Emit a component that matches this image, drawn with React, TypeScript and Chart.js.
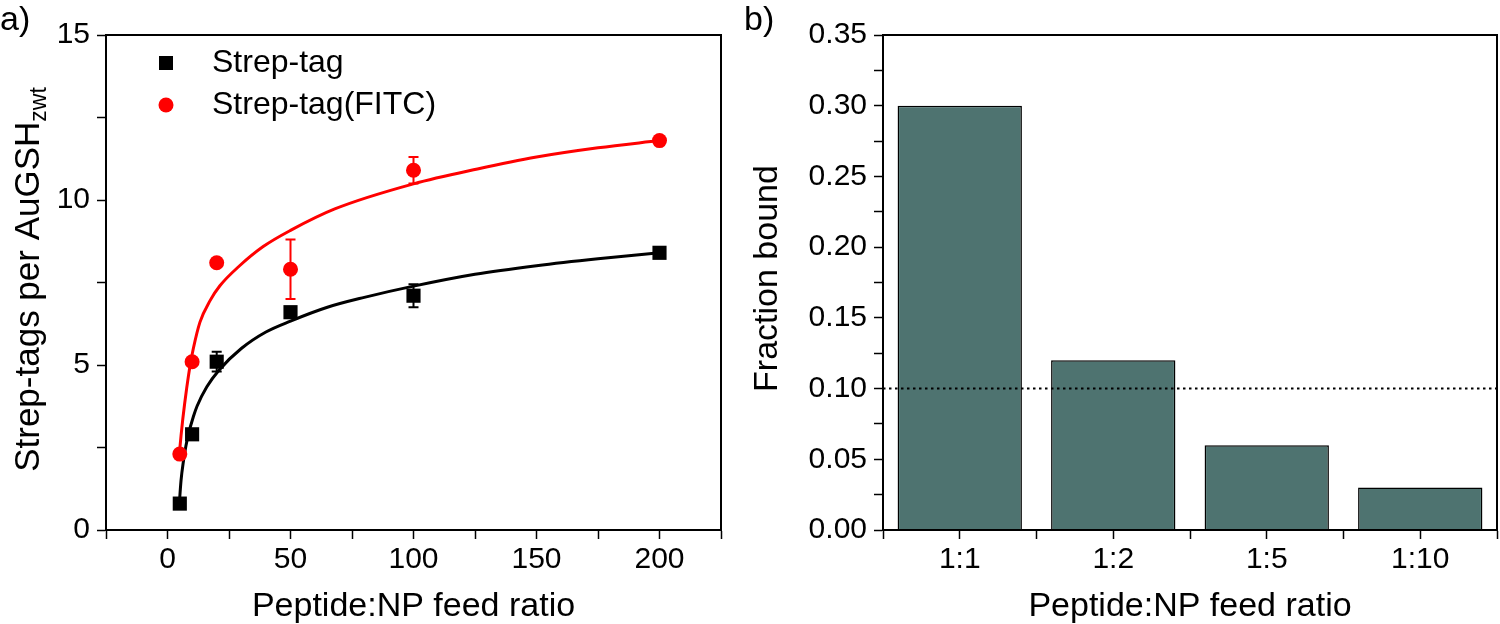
import React, { useEffect, useRef } from 'react';
import { Chart, registerables } from 'chart.js';

Chart.register(...registerables);

const FONT = '"Liberation Sans", Arial, Helvetica, sans-serif';

// ---------- Panel a ----------
const feedRatio = [5, 10, 20, 50, 100, 200];
const strepTag = [0.8, 2.9, 5.1, 6.6, 7.1, 8.4];
const strepTagErr = [0, 0, 0.3, 0, 0.35, 0];
const strepTagFitc = [2.3, 5.1, 8.1, 7.9, 10.9, 11.8];
const strepTagFitcErr = [0, 0, 0.12, 0.9, 0.4, 0];

const strepFitX = [4.8, 5.5, 6.5, 7.5, 8.5, 10.5, 12, 16, 21, 30, 40, 50, 65, 80, 100, 125, 150, 175, 200];
const strepFitY = [0.8, 1.5, 2.1, 2.55, 2.9, 3.43, 3.75, 4.34, 4.85, 5.5, 6.0, 6.33, 6.75, 7.05, 7.39, 7.75, 8.01, 8.22, 8.4];
const fitcFitX = [4.8, 5.5, 6.2, 7.0, 7.8, 9.1, 10.5, 13.2, 17.3, 21.3, 29.2, 38.9, 50, 68, 100, 126, 150, 175, 200];
const fitcFitY = [2.3, 2.85, 3.35, 3.85, 4.3, 4.95, 5.5, 6.3, 6.95, 7.4, 8.0, 8.59, 9.08, 9.73, 10.49, 10.94, 11.3, 11.58, 11.8];

const seriesLabels = ['Strep-tag', 'Strep-tag(FITC)'];
const xTitleA = 'Peptide:NP feed ratio';
const yTitleA = 'Strep-tags per AuGSH';
const yTitleASub = 'zwt';

// ---------- Panel b ----------
const ratioLabels = ['1:1', '1:2', '1:5', '1:10'];
const ratioIndex = [1, 2, 3, 4];
const fractionBound = [0.3, 0.12, 0.06, 0.03];
const thresholdX = [0.5, 4.5];
const thresholdY = [0.1, 0.1];
const xTitleB = 'Peptide:NP feed ratio';
const yTitleB = 'Fraction bound';

const TICK_FONT = { family: FONT, size: 30 };
const TITLE_PX = 34;

const axisCommon = {
  grid: {
    display: true,
    drawOnChartArea: false,
    drawTicks: true,
    tickLength: 9,
    tickWidth: 1.5,
    tickColor: '#000',
    color: '#000',
  },
  border: { display: true, color: '#000', width: 2 },
};

const framePlugin = {
  id: 'frame',
  afterDraw(chart: any) {
    const { ctx, chartArea: a } = chart;
    ctx.save();
    ctx.strokeStyle = '#000';
    ctx.lineWidth = 2;
    ctx.strokeRect(a.left, a.top, a.right - a.left, a.bottom - a.top);
    ctx.restore();
  },
};

const errorBarPlugin = {
  id: 'errorBars',
  beforeDatasetsDraw(chart: any) {
    const { ctx } = chart;
    const xs = chart.scales.x;
    const ys = chart.scales.y;
    chart.data.datasets.forEach((ds: any) => {
      if (!ds.errorBars) return;
      ctx.save();
      ctx.strokeStyle = ds.backgroundColor;
      ctx.lineWidth = 2;
      ds.data.forEach((p: any, j: number) => {
        const e = ds.errorBars[j];
        if (!e) return;
        const px = xs.getPixelForValue(p.x);
        const top = ys.getPixelForValue(p.y + e);
        const bot = ys.getPixelForValue(p.y - e);
        ctx.beginPath();
        ctx.moveTo(px, top);
        ctx.lineTo(px, bot);
        ctx.moveTo(px - 5, top);
        ctx.lineTo(px + 5, top);
        ctx.moveTo(px - 5, bot);
        ctx.lineTo(px + 5, bot);
        ctx.stroke();
      });
      ctx.restore();
    });
  },
};

function drawYTitle(ctx: CanvasRenderingContext2D, cx: number, cy: number, main: string, size: number, sub?: string) {
  ctx.save();
  ctx.translate(cx, cy);
  ctx.rotate(-Math.PI / 2);
  ctx.fillStyle = '#000';
  ctx.textBaseline = 'middle';
  ctx.textAlign = 'left';
  ctx.font = `${size}px ${FONT}`;
  const w1 = ctx.measureText(main).width;
  let w2 = 0;
  const subFont = `${Math.round(size * 0.66)}px ${FONT}`;
  if (sub) {
    ctx.font = subFont;
    w2 = ctx.measureText(sub).width;
  }
  const start = -(w1 + w2) / 2;
  ctx.font = `${size}px ${FONT}`;
  ctx.fillText(main, start, 0);
  if (sub) {
    ctx.font = subFont;
    ctx.fillText(sub, start + w1, 11);
  }
  ctx.restore();
}

const decorA = {
  id: 'decorA',
  afterDraw(chart: any) {
    const { ctx, chartArea: a } = chart;
    ctx.save();
    ctx.fillStyle = '#000';
    ctx.font = `34px ${FONT}`;
    ctx.textAlign = 'left';
    ctx.textBaseline = 'alphabetic';
    ctx.fillText('a)', 0, 30);
    ctx.font = `${TITLE_PX}px ${FONT}`;
    ctx.textAlign = 'center';
    ctx.fillText(xTitleA, (a.left + a.right) / 2, 616);
    drawYTitle(ctx, 29, (a.top + a.bottom) / 2 - 3, yTitleA, 35, yTitleASub);
    // legend
    const ds = chart.data.datasets;
    const lx = a.left + 60;
    const tx = a.left + 106;
    const y1 = a.top + 28;
    const y2 = a.top + 70;
    ctx.fillStyle = ds[0].backgroundColor;
    ctx.fillRect(lx - 7, y1 - 7, 14, 14);
    ctx.fillStyle = ds[1].backgroundColor;
    ctx.beginPath();
    ctx.arc(lx, y2, 7.5, 0, Math.PI * 2);
    ctx.fill();
    ctx.fillStyle = '#000';
    ctx.font = `32px ${FONT}`;
    ctx.textAlign = 'left';
    ctx.textBaseline = 'middle';
    ctx.fillText(ds[0].label, tx, y1);
    ctx.fillText(ds[1].label, tx, y2);
    ctx.restore();
  },
};

const decorB = {
  id: 'decorB',
  afterDraw(chart: any) {
    const { ctx, chartArea: a } = chart;
    ctx.save();
    ctx.fillStyle = '#000';
    ctx.font = `34px ${FONT}`;
    ctx.textAlign = 'left';
    ctx.textBaseline = 'alphabetic';
    ctx.fillText('b)', 4, 30);
    ctx.font = `${TITLE_PX}px ${FONT}`;
    ctx.textAlign = 'center';
    ctx.fillText(xTitleB, (a.left + a.right) / 2, 616);
    drawYTitle(ctx, 28, (a.top + a.bottom) / 2 - 4, yTitleB, 34);
    ctx.restore();
  },
};

function PanelA() {
  const ref = useRef<HTMLCanvasElement>(null);
  useEffect(() => {
    const chart = new Chart(ref.current as HTMLCanvasElement, {
      type: 'scatter',
      data: {
        datasets: [
          {
            label: seriesLabels[0],
            data: feedRatio.map((x, i) => ({ x, y: strepTag[i] })),
            pointStyle: 'rect',
            pointRadius: 10,
            backgroundColor: '#000',
            borderWidth: 0,
            showLine: false,
            errorBars: strepTagErr,
          } as any,
          {
            label: seriesLabels[1],
            data: feedRatio.map((x, i) => ({ x, y: strepTagFitc[i] })),
            pointStyle: 'circle',
            pointRadius: 7.5,
            backgroundColor: '#ff0000',
            borderWidth: 0,
            showLine: false,
            errorBars: strepTagFitcErr,
          } as any,
          {
            label: 'fit1',
            data: strepFitX.map((x, i) => ({ x, y: strepFitY[i] })),
            showLine: true,
            pointRadius: 0,
            borderColor: '#000',
            borderWidth: 3,
            cubicInterpolationMode: 'monotone',
          },
          {
            label: 'fit2',
            data: fitcFitX.map((x, i) => ({ x, y: fitcFitY[i] })),
            showLine: true,
            pointRadius: 0,
            borderColor: '#ff0000',
            borderWidth: 3,
            cubicInterpolationMode: 'monotone',
          },
        ],
      },
      options: {
        responsive: false,
        animation: false,
        devicePixelRatio: 1,
        layout: { padding: { left: 0, right: 19, top: 35, bottom: 0 } },
        plugins: { legend: { display: false }, tooltip: { enabled: false } },
        scales: {
          x: {
            type: 'linear',
            min: -25,
            max: 225,
            ...axisCommon,
            ticks: {
              stepSize: 25,
              autoSkip: false,
              maxRotation: 0,
              padding: 3,
              color: '#000',
              font: TICK_FONT,
              callback: (v: any) => (Number(v) % 50 === 0 ? String(v) : ''),
            },
            afterFit: (s: any) => {
              s.height = 94;
            },
          },
          y: {
            type: 'linear',
            min: 0,
            max: 15,
            ...axisCommon,
            ticks: {
              stepSize: 2.5,
              autoSkip: false,
              padding: 7,
              color: '#000',
              font: TICK_FONT,
              callback: (v: any) => (Number(v) % 5 === 0 ? String(v) : ''),
            },
            afterFit: (s: any) => {
              s.width = 106;
            },
          },
        },
      } as any,
      plugins: [errorBarPlugin, framePlugin, decorA],
    });
    return () => chart.destroy();
  }, []);
  return <canvas ref={ref} width={740} height={624} style={{ position: 'absolute', left: 0, top: 0 }} />;
}

function PanelB() {
  const ref = useRef<HTMLCanvasElement>(null);
  useEffect(() => {
    const chart = new Chart(ref.current as HTMLCanvasElement, {
      type: 'bar',
      data: {
        datasets: [
          {
            type: 'line',
            label: 'threshold',
            data: thresholdX.map((x, i) => ({ x, y: thresholdY[i] })),
            borderColor: '#000',
            borderWidth: 2,
            borderDash: [2.5, 3.5],
            pointRadius: 0,
            fill: false,
          } as any,
          {
            type: 'bar',
            label: 'Fraction bound',
            data: ratioIndex.map((x, i) => ({ x, y: fractionBound[i] })),
            backgroundColor: '#4e7370',
            borderColor: '#000',
            borderWidth: 1.5,
            barPercentage: 0.81,
            categoryPercentage: 2,
          } as any,
        ],
      },
      options: {
        responsive: false,
        animation: false,
        devicePixelRatio: 1,
        layout: { padding: { left: 0, right: 2, top: 35, bottom: 0 } },
        plugins: { legend: { display: false }, tooltip: { enabled: false } },
        scales: {
          x: {
            type: 'linear',
            min: 0.5,
            max: 4.5,
            offset: false,
            ...axisCommon,
            grid: { ...axisCommon.grid, offset: false },
            ticks: {
              stepSize: 0.5,
              autoSkip: false,
              maxRotation: 0,
              padding: 3,
              color: '#000',
              font: TICK_FONT,
              callback: (v: any) => {
                const n = Number(v);
                return Math.abs(n - Math.round(n)) < 1e-6 ? ratioLabels[Math.round(n) - 1] : '';
              },
            },
            afterFit: (s: any) => {
              s.height = 94;
            },
          },
          y: {
            type: 'linear',
            min: 0,
            max: 0.35,
            ...axisCommon,
            ticks: {
              stepSize: 0.025,
              autoSkip: false,
              padding: 7,
              color: '#000',
              font: TICK_FONT,
              callback: (v: any) => {
                const n = Number(v);
                const k = Math.round(n / 0.05);
                return Math.abs(k * 0.05 - n) < 1e-6 ? n.toFixed(2) : '';
              },
            },
            afterFit: (s: any) => {
              s.width = 143;
            },
          },
        },
      } as any,
      plugins: [framePlugin, decorB],
    });
    return () => chart.destroy();
  }, []);
  return <canvas ref={ref} width={760} height={624} style={{ position: 'absolute', left: 740, top: 0 }} />;
}

export default function App() {
  useEffect(() => {
    document.body.style.margin = '0';
  }, []);
  return (
    <div style={{ position: 'relative', width: 1500, height: 624, background: '#fff', overflow: 'hidden' }}>
      <PanelA />
      <PanelB />
    </div>
  );
}
